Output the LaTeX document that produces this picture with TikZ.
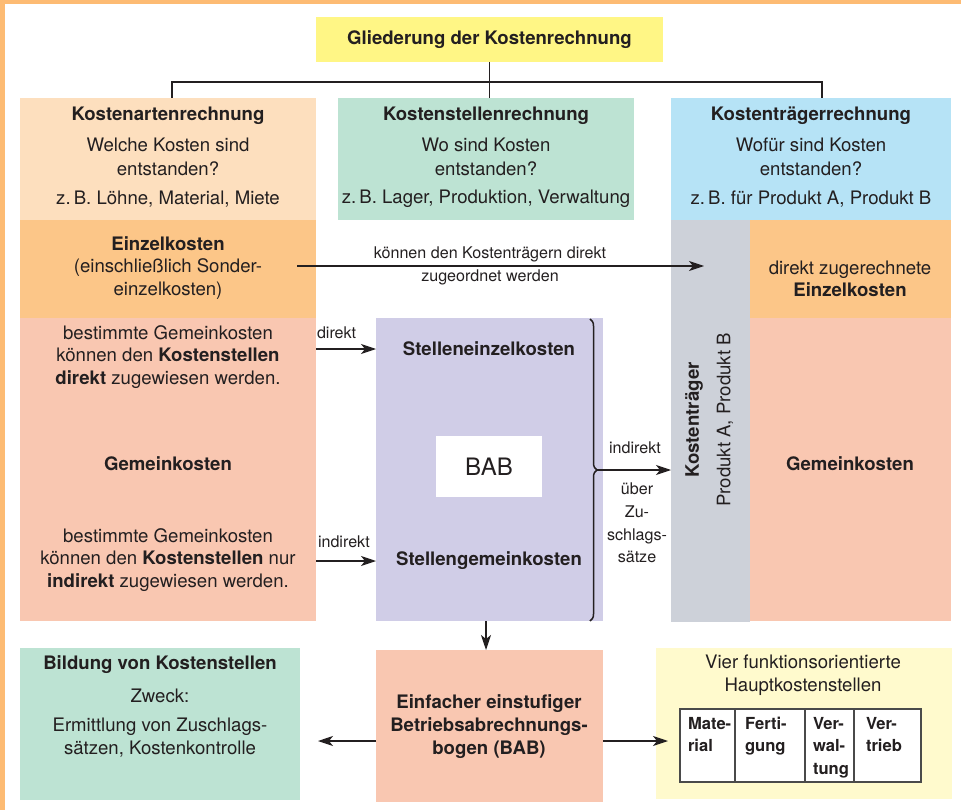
\documentclass[tikz,border=0pt]{standalone}
\usepackage{fontspec}
\setmainfont{TeX Gyre Heros}
\usetikzlibrary{arrows.meta,decorations.pathreplacing}
\definecolor{frameor}{HTML}{FDBB73}
\definecolor{titley}{HTML}{FFF685}
\definecolor{peach}{HTML}{FDDFBE}
\definecolor{mint}{HTML}{BDE3D3}
\definecolor{sky}{HTML}{B6E3F6}
\definecolor{orng}{HTML}{FCC688}
\definecolor{salmon}{HTML}{F9C7B1}
\definecolor{grayc}{HTML}{CDD1D9}
\definecolor{lila}{HTML}{D0CDE7}
\definecolor{pale}{HTML}{FFFACD}
\definecolor{ink}{HTML}{231F20}
\definecolor{tabline}{HTML}{4A4A4A}
\newcommand\kbody{\fontsize{18.6}{23.5}\selectfont}
\newcommand\kbodyt{\fontsize{18.6}{22.6}\selectfont}
\newcommand\klbl{\fontsize{16.1}{22.5}\selectfont}
\newcommand\kbig{\fontsize{24}{28}\selectfont}
\newcommand\ktab{\fontsize{16.6}{22.5}\selectfont\bfseries}
\begin{document}
\begin{tikzpicture}[x=1pt,y=-1pt,
 area/.style={fill=#1, draw=none, inner sep=0, outer sep=0},
 txt/.style={inner sep=0, outer sep=0, align=center, text=ink, font=\kbody},
 txtt/.style={txt, font=\kbodyt},
 hd/.style={txt, font=\kbody\bfseries},
 lbl/.style={inner sep=0, outer sep=0, align=center, text=ink, font=\klbl},
 conn/.style={draw=ink, line width=1.1pt},
 arr/.style={conn, -{Stealth[length=15pt,width=10pt,inset=4pt]}},
 cell/.style={draw=tabline, line width=1.4pt, fill=white, inner sep=0, outer sep=0, minimum height=73pt},
 tabt/.style={inner sep=0, outer sep=0, align=left, text=ink, font=\ktab}
]
\useasboundingbox (0,0) rectangle (961,810);
\fill[frameor] (0,0) rectangle (961,4);
\fill[frameor] (0,0) rectangle (5,810);

% areas
\node[area=titley, minimum width=347pt, minimum height=45pt] (title) at (489.5,39.5) {};
\node[area=peach, minimum width=296pt, minimum height=122pt] (kar) at (168,159) {};
\node[area=mint, minimum width=296pt, minimum height=122pt] (ksr) at (486,159) {};
\node[area=sky, minimum width=280pt, minimum height=122pt] (ktr) at (811,159) {};
\node[area=orng, minimum width=296pt, minimum height=98pt] (ekL) at (168,269) {};
\node[area=salmon, minimum width=296pt, minimum height=303pt] (gkL) at (168,469.5) {};
\node[area=grayc, minimum width=79pt, minimum height=402pt] (gray) at (710.5,421) {};
\node[area=orng, minimum width=201pt, minimum height=98pt] (ekR) at (850.5,269) {};
\node[area=salmon, minimum width=201pt, minimum height=303pt] (gkR) at (850.5,469.5) {};
\node[area=lila, minimum width=227pt, minimum height=303pt] (purple) at (489.5,469.5) {};
\node[area=white, minimum width=106pt, minimum height=61pt] (babw) at (489,466.5) {};
\node[area=salmon, minimum width=227pt, minimum height=152pt] (babB) at (489.5,726) {};
\node[area=mint, minimum width=280pt, minimum height=152pt] (bild) at (160,724) {};
\node[area=pale, minimum width=296pt, minimum height=151pt] (yel) at (804,723.5) {};

% title and tree
\node[hd] (titlet) at (title) {Gliederung der Kostenrechnung};
\coordinate (j) at (489.5,82);
\draw[conn] (title.south) -- (j);
\draw[conn] ([xshift=4pt]kar.north) |- (j) -| ([xshift=11pt]ktr.north);
\draw[conn] (j) -- (j |- ksr.north);

% top boxes
\node[hd] (karh) at (168,116) {Kostenartenrechnung};
\node[txt] (karq) at (168,157) {Welche Kosten sind\\entstanden?};
\node[txt] (kare) at (168,199) {z.\,B. Löhne, Material, Miete};
\node[hd] (ksrh) at (486,116) {Kostenstellenrechnung};
\node[txt] (ksrq) at (486,157) {Wo sind Kosten\\entstanden?};
\node[txt] (ksre) at (486,199) {z.\,B. Lager, Produktion, Verwaltung};
\node[hd] (ktrh) at (811,116) {Kostenträgerrechnung};
\node[txt] (ktrq) at (811,157) {Wofür sind Kosten\\entstanden?};
\node[txt] (ktre) at (811,199) {z.\,B. für Produkt A, Produkt B};

% Einzelkosten
\node[txtt] (ekLt) at (168,268) {\textbf{Einzelkosten}\\(einschließlich Sonder-\\einzelkosten)};
\node[txtt] (ekRt) at (850,279) {direkt zugerechnete\\\textbf{Einzelkosten}};
\coordinate (ea) at (297,266);
\coordinate (eb) at (704,266);
\draw[arr] (ea) -- (eb);
\node[lbl] (ekl1) at (490,254) {können den Kostenträgern direkt};
\node[lbl] (ekl2) at (490,277) {zugeordnet werden};

% Gemeinkosten left
\node[txtt] (gk1) at (168,357) {bestimmte Gemeinkosten\\können den \textbf{Kostenstellen}\\\textbf{direkt} zugewiesen werden.};
\node[hd] (gkLt) at (168,464) {Gemeinkosten};
\node[txtt] (gk2) at (168,560) {bestimmte Gemeinkosten\\können den \textbf{Kostenstellen} nur\\\textbf{indirekt} zugewiesen werden.};

% purple BAB
\node[hd] (sez) at (489,349) {Stelleneinzelkosten};
\node[hd] (sgk) at (489,561) {Stellengemeinkosten};
\node[txt, font=\kbig] (babt) at (babw) {BAB};
\draw[arr] (gkL.east |- sez) -- (purple.west |- sez);
\node[lbl, anchor=west] (ldir) at (317,333) {direkt};
\draw[arr] (gkL.east |- sgk) -- (purple.west |- sgk);
\node[lbl, anchor=west] (lind) at (318,542) {indirekt};

% brace
\draw[decorate, decoration={brace, amplitude=7pt}, line width=1.5pt, draw=ink] (590,319) -- (590,621);
\coordinate (bt) at (597,470);
\draw[arr] (bt) -- (gray.west |- bt);
\node[lbl] (lind2) at (635,448) {indirekt};
\node[lbl, font=\fontsize{16.1}{22.7}\selectfont] (lueber) at (637,523) {über\\Zu-\\schlags-\\sätze};

% Kostentraeger column
\node[hd, rotate=90] (ktt) at (694,420) {Kostenträger};
\node[txt, rotate=90] (kpt) at (725,420) {Produkt A, Produkt B};
\node[hd] (gkRt) at (850,464) {Gemeinkosten};

% bottom
\draw[arr] ([xshift=-3.5pt]purple.south) -- ([xshift=-3.5pt]babB.north);
\node[txt, font=\fontsize{18.6}{23}\selectfont\bfseries] (babBt) at (489,727) {Einfacher einstufiger\\Betriebsabrechnungs-\\bogen (BAB)};
\coordinate (lb) at (318,741);
\draw[arr] (babB.west |- lb) -- (lb);
\coordinate (rb) at (668,741);
\draw[arr] (babB.east |- rb) -- (rb);

\node[hd] (bildh) at (160,665) {Bildung von Kostenstellen};
\node[txt] (bildz) at (160,696) {Zweck:};
\node[txt, font=\fontsize{18.6}{23}\selectfont] (bilde) at (160,737.5) {Ermittlung von Zuschlags-\\sätzen, Kostenkontrolle};

\node[txt, font=\fontsize{18.6}{23}\selectfont] (vier) at (803,675.5) {Vier funktionsorientierte\\Hauptkostenstellen};
\node[cell, minimum width=55pt] (c1) at (707.5,745.5) {};
\node[cell, minimum width=70pt] (c2) at (770,745.5) {};
\node[cell, minimum width=49pt] (c3) at (829.5,745.5) {};
\node[cell, minimum width=67pt] (c4) at (887.5,745.5) {};
\node[tabt, anchor=north west] (t1) at ([xshift=8pt,yshift=-8pt]c1.north west) {Mate-\\rial};
\node[tabt, anchor=north west] (t2) at ([xshift=10pt,yshift=-8pt]c2.north west) {Ferti-\\gung};
\node[tabt, anchor=north west] (t3) at ([xshift=8pt,yshift=-8pt]c3.north west) {Ver-\\wal-\\tung};
\node[tabt, anchor=north west] (t4) at ([xshift=12pt,yshift=-8pt]c4.north west) {Ver-\\trieb};
\end{tikzpicture}
\end{document}
